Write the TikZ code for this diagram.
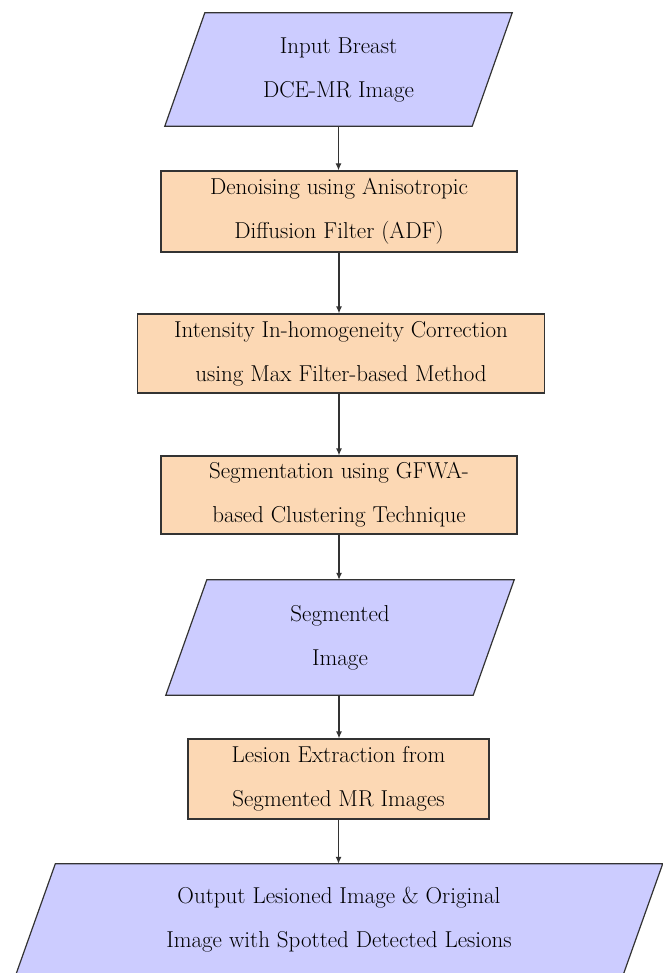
\documentclass[tikz,border=0pt]{standalone}
\usetikzlibrary{arrows.meta,backgrounds}
\definecolor{procfill}{RGB}{252,216,180}
\definecolor{iofill}{RGB}{204,204,255}
\newcommand\ioshape[2]{%
  \draw[iopath] ([xshift=#2]#1.north west) -- ([xshift=#2]#1.north east)
    -- ([xshift=-#2]#1.south east) -- ([xshift=-#2]#1.south west) -- cycle;}
\begin{document}
\begin{tikzpicture}[x=1pt,y=-1pt,
  every node/.style={font=\fontsize{23}{44}\selectfont, align=center, inner sep=0pt},
  procbox/.style={rectangle, draw=black!80, line width=1.2pt, fill=procfill},
  iobox/.style={rectangle},
  iopath/.style={draw=black!80, line width=1.2pt, fill=iofill, line join=miter},
  flow/.style={draw=black!80, line width=1.2pt, -{Latex[length=7pt,width=6pt]}}]
\clip (0,0) rectangle (662,973);
\node[iobox, minimum width=307pt, minimum height=113pt] (p1) at (338.5,69.5) {Input Breast\\DCE-MR Image};
\node[procbox, minimum width=356pt, minimum height=81pt] (b2) at (339,211.5) {Denoising using Anisotropic\\Diffusion Filter (ADF)};
\node[procbox, minimum width=407pt, minimum height=79pt] (b3) at (341,353.5) {Intensity In-homogeneity Correction\\using Max Filter-based Method};
\node[procbox, minimum width=356pt, minimum height=78pt] (b4) at (339,495) {Segmentation using GFWA-\\based Clustering Technique};
\node[iobox, minimum width=307pt, minimum height=115pt] (p2) at (340,637.5) {Segmented\\Image};
\node[procbox, minimum width=301pt, minimum height=80pt] (b5) at (338.5,779) {Lesion Extraction from\\Segmented MR Images};
\node[iobox, minimum width=607pt, minimum height=112pt] (p3) at (339,920) {Output Lesioned Image \& Original\\Image with Spotted Detected Lesions};
\begin{scope}[on background layer]
  \ioshape{p1}{20pt}
  \ioshape{p2}{20.5pt}
  \ioshape{p3}{20pt}
\end{scope}
\draw[flow] (p1.south) -- (p1.south |- b2.north);
\draw[flow] (b2.south) -- (b2.south |- b3.north);
\draw[flow] (b3.south -| b2.south) -- (b2.south |- b4.north);
\draw[flow] (b4.south) -- (b4.south |- p2.north);
\draw[flow] (p2.south -| b4.south) -- (b4.south |- b5.north);
\draw[flow] (b5.south) -- (b5.south |- p3.north);
\end{tikzpicture}
\end{document}
